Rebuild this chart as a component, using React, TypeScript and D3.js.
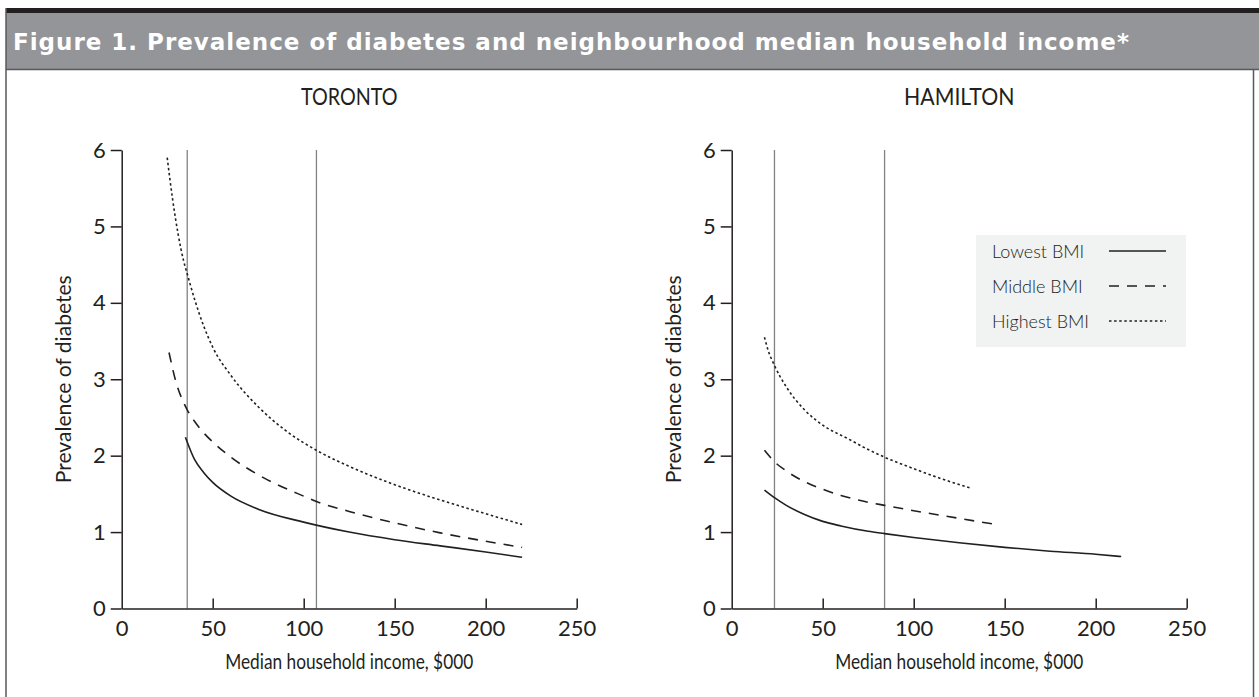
import { useEffect, useRef } from 'react'
import * as d3 from 'd3'

const titleText = 'Figure 1. Prevalence of diabetes and neighbourhood median household income*'
const cityNames = ['TORONTO', 'HAMILTON']
const xTicks = [0, 50, 100, 150, 200, 250]
const yTicks = [0, 1, 2, 3, 4, 5, 6]
const legendLabels = ['Lowest BMI', 'Middle BMI', 'Highest BMI']

// income cut-offs (vertical reference lines), $000
const torontoCuts = [36, 107]
const hamiltonCuts = [23.5, 84]

// Toronto
const torLowX = [35, 40, 45, 50, 60, 75, 100, 125, 150, 175, 200, 220]
const torLowY = [2.24, 1.95, 1.78, 1.65, 1.47, 1.3, 1.13, 1.0, 0.9, 0.82, 0.74, 0.67]
const torMidX = [26, 30, 33, 36, 40, 45, 50, 60, 75, 100, 107, 125, 150, 175, 200, 220]
const torMidY = [3.35, 2.95, 2.75, 2.6, 2.45, 2.3, 2.18, 1.98, 1.75, 1.47, 1.4, 1.27, 1.12, 0.99, 0.88, 0.8]
const torHighX = [25, 28, 31, 34, 36, 40, 45, 50, 60, 75, 90, 107, 125, 150, 175, 200, 220]
const torHighY = [5.9, 5.35, 4.9, 4.55, 4.38, 4.05, 3.7, 3.42, 3.05, 2.64, 2.33, 2.07, 1.86, 1.62, 1.42, 1.24, 1.1]

// Hamilton
const hamLowX = [18, 23.5, 30, 40, 50, 60, 75, 84, 100, 125, 150, 175, 200, 214]
const hamLowY = [1.55, 1.45, 1.35, 1.23, 1.14, 1.08, 1.01, 0.98, 0.93, 0.86, 0.8, 0.75, 0.71, 0.68]
const hamMidX = [18, 23.5, 30, 40, 50, 60, 75, 84, 100, 125, 145]
const hamMidY = [2.07, 1.92, 1.8, 1.66, 1.56, 1.48, 1.39, 1.35, 1.28, 1.18, 1.1]
const hamHighX = [18, 20, 23.5, 30, 40, 50, 64, 75, 84, 100, 115, 132]
const hamHighY = [3.55, 3.38, 3.18, 2.9, 2.6, 2.4, 2.22, 2.08, 1.98, 1.83, 1.7, 1.57]

const dashes = [null, '10,8', '2.5,2.6']
const ink = '#231f20'
const font = 'Lato, "Open Sans", sans-serif'

export default function App() {
  const ref = useRef<SVGSVGElement>(null)

  useEffect(() => {
    const W = 1259, H = 697
    const svg = d3.select(ref.current)
    svg.selectAll('*').remove()
    svg.attr('width', W).attr('height', H)

    svg.append('rect').attr('width', W).attr('height', H).attr('fill', '#fff')

    // frame and title band
    svg.append('rect').attr('x', 6).attr('y', 8).attr('width', W - 6).attr('height', 5).attr('fill', ink)
    svg.append('rect').attr('x', 6).attr('y', 13).attr('width', W - 6).attr('height', 56).attr('fill', '#939598')
    svg.append('line').attr('x1', 6).attr('x2', W).attr('y1', 69.5).attr('y2', 69.5)
      .attr('stroke', '#58595b').attr('stroke-width', 1.5)
    svg.append('line').attr('x1', 6).attr('x2', 6).attr('y1', 8).attr('y2', H)
      .attr('stroke', '#58595b').attr('stroke-width', 1.5)
    svg.append('line').attr('x1', 1253.5).attr('x2', 1253.5).attr('y1', 70).attr('y2', H)
      .attr('stroke', '#58595b').attr('stroke-width', 1.5)

    svg.append('text')
      .attr('x', 13).attr('y', 50)
      .attr('fill', '#fff')
      .attr('font-family', '"DejaVu Sans", sans-serif')
      .attr('font-weight', 'bold')
      .attr('font-size', 23)
      .attr('textLength', 1116)
      .attr('lengthAdjust', 'spacing')
      .text(titleText)

    const panels = [
      { name: cityNames[0], left: 121.7, cuts: torontoCuts,
        series: [[torLowX, torLowY], [torMidX, torMidY], [torHighX, torHighY]] },
      { name: cityNames[1], left: 731.7, cuts: hamiltonCuts,
        series: [[hamLowX, hamLowY], [hamMidX, hamMidY], [hamHighX, hamHighY]] },
    ]

    const plotW = 455, top = 150, bottom = 608.5

    panels.forEach(function (p) {
      const x = d3.scaleLinear().domain([0, 250]).range([p.left, p.left + plotW])
      const y = d3.scaleLinear().domain([0, 6]).range([bottom, top])
      const g = svg.append('g')

      // city title
      g.append('text')
        .attr('x', p.left + plotW / 2).attr('y', 105)
        .attr('text-anchor', 'middle')
        .attr('font-family', font)
        .attr('font-size', 24).attr('fill', ink)
        .attr('textLength', p.name.length * 13.8).attr('lengthAdjust', 'spacingAndGlyphs')
        .text(p.name)

      // cut-off lines
      g.selectAll('line.cut')
        .data(p.cuts)
        .enter()
        .append('line')
        .attr('class', 'cut')
        .attr('x1', d => x(d)).attr('x2', d => x(d))
        .attr('y1', top).attr('y2', bottom)
        .attr('stroke', '#808285').attr('stroke-width', 1.3)

      // axes
      const ya = g.append('g')
        .attr('transform', 'translate(' + p.left + ',0)')
        .call(d3.axisLeft(y).tickValues(yTicks).tickFormat(d3.format('d')).tickSize(11).tickSizeOuter(0).tickPadding(5))
      const xa = g.append('g')
        .attr('transform', 'translate(0,' + bottom + ')')
        .call(d3.axisBottom(x).tickValues(xTicks).tickFormat(d3.format('d')).tickSize(-10).tickSizeOuter(0).tickPadding(12))
      ;[ya, xa].forEach(function (a) {
        a.selectAll('path, line').attr('stroke', ink).attr('stroke-width', 1.5)
        a.selectAll('text').attr('font-family', font).attr('font-size', 22).attr('fill', ink)
      })
      xa.selectAll('.tick').filter((d: any) => d === 0).select('line').remove()

      // axis titles
      g.append('text')
        .attr('x', p.left + plotW / 2).attr('y', 669)
        .attr('text-anchor', 'middle')
        .attr('font-family', font).attr('font-size', 21).attr('fill', ink)
        .attr('textLength', 248).attr('lengthAdjust', 'spacingAndGlyphs')
        .text('Median household income, $000')
      g.append('text')
        .attr('transform', 'translate(' + (p.left - 51) + ',' + (top + bottom) / 2 + ') rotate(-90)')
        .attr('text-anchor', 'middle')
        .attr('font-family', font).attr('font-size', 21).attr('fill', ink)
        .attr('textLength', 208).attr('lengthAdjust', 'spacingAndGlyphs')
        .text('Prevalence of diabetes')

      // curves
      p.series.forEach(function (s, i) {
        const pts: [number, number][] = s[0].map((v, k) => [x(v), y(s[1][k])])
        g.append('path')
          .attr('d', d3.line().curve(d3.curveMonotoneX)(pts))
          .attr('fill', 'none')
          .attr('stroke', ink)
          .attr('stroke-width', 1.6)
          .attr('stroke-dasharray', dashes[i])
      })
    })

    // legend (Hamilton panel)
    const lg = svg.append('g')
    lg.append('rect').attr('x', 976).attr('y', 235).attr('width', 210).attr('height', 112).attr('fill', '#f1f2f2')
    legendLabels.forEach(function (l, i) {
      const cy = 251 + i * 35
      lg.append('text')
        .attr('x', 992).attr('y', cy + 7)
        .attr('font-family', font).attr('font-weight', 300)
        .attr('font-size', 18).attr('fill', ink)
        .text(l)
      lg.append('line')
        .attr('x1', 1109).attr('x2', 1166).attr('y1', cy).attr('y2', cy)
        .attr('stroke', ink).attr('stroke-width', 1.6)
        .attr('stroke-dasharray', dashes[i])
    })
  }, [])

  return (
    <svg ref={ref} style={{ position: 'absolute', left: 0, top: 0 }} />
  )
}
